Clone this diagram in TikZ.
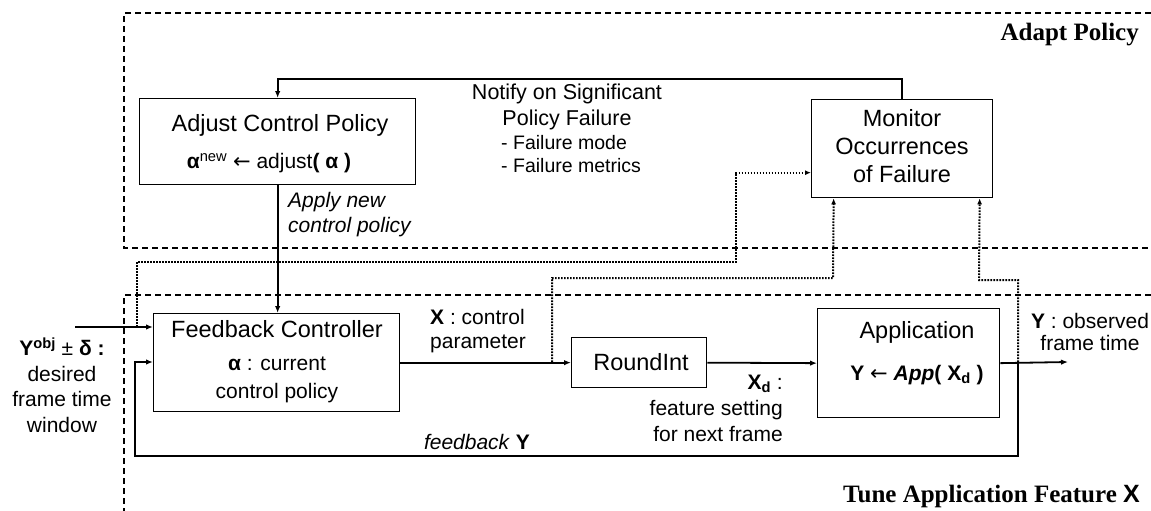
\documentclass[tikz,border=0pt]{standalone}
\usepackage{fontspec}
\setmainfont{Liberation Sans}
\newfontfamily\seriffont{Liberation Serif}
\newfontfamily\arrowfont{DejaVu Sans}
\newcommand{\larr}{{\arrowfont\mdseries ←}}
\usetikzlibrary{arrows.meta,calc}
\begin{document}
\begin{tikzpicture}[x=1pt,y=-1pt,
  box/.style={draw, line width=1.3pt, inner sep=0pt, anchor=north west},
  conn/.style={line width=1.8pt, -{Latex[length=7pt,width=5.5pt]}},
  dotc/.style={line width=2pt, dash pattern=on 1.6pt off 1.4pt, -{Latex[length=6pt,width=5pt]}},
  frame/.style={line width=1.2pt, dash pattern=on 6pt off 4pt},
  ttl/.style={font=\fontsize{23.5}{28}\selectfont, inner sep=0pt, align=center},
  lbl/.style={font=\fontsize{21}{26}\selectfont, inner sep=0pt},
  small/.style={font=\fontsize{19.5}{23}\selectfont, inner sep=0pt},
  region/.style={font=\fontsize{25}{30}\selectfont\seriffont\bfseries, inner sep=0pt}
]
\useasboundingbox (0,0) rectangle (1151,511);

% region frames
\draw[frame] (1151,13) -- (124,13) -- (124,248) -- (1151,248);
\draw[frame] (1151,295) -- (124,295) -- (124,511);
\node[region, anchor=base east] (adaptlbl) at (1139,41) {Adapt Policy};
\node[region, anchor=base east] (tunelbl) at (1140,502) {Tune Application Feature {\rmfamily X}};

% boxes
\node[box, minimum width=276pt, minimum height=86pt] (adjust) at (139,98) {};
\node[box, minimum width=181pt, minimum height=98pt] (monitor) at (811,99) {};
\node[box, minimum width=246pt, minimum height=98pt] (feedback) at (153,313) {};
\node[box, minimum width=135pt, minimum height=50pt] (roundint) at (571,337) {};
\node[box, minimum width=182pt, minimum height=109pt] (app) at (817,308) {};

% box texts
\node[ttl] (adjt1) at (280,125) {Adjust Control Policy};
\node[lbl] (adjt2) at (269,163) {\textbf{α}\textsuperscript{new} \larr\ adjust\textbf{( α )}};
\node[ttl] (mont) at (902,146) {Monitor\\Occurrences\\of Failure};
\node[ttl] (fbt1) at (277,329) {Feedback Controller};
\node[lbl, align=center, font=\fontsize{21}{28}\selectfont] (fbt2) at (277,380) {\textbf{α} : current\\control policy};
\node[ttl] (rit) at (641,362) {RoundInt};
\node[ttl] (appt1) at (917,332) {Application};
\node[lbl] (appt2) at (917,375) {\textbf{Y \larr\ \textit{App}( X\textsubscript{d} )}};

% other labels
\node[lbl, align=center, font=\fontsize{21}{25.5}\selectfont] (inlbl) at (62,385) {\textbf{Y\textsuperscript{obj}} ± \textbf{δ :}\\desired\\frame time\\window};
\node[lbl, align=left, anchor=west, font=\fontsize{21}{24}\selectfont] (xlbl) at (430,331) {\textbf{X} : control\\parameter};
\node[lbl, align=right, anchor=east] (xdlbl) at (783,408) {\textbf{X\textsubscript{d}} :\\feature setting\\for next frame};
\node[lbl] (fblbl) at (477,442) {\textit{feedback} \textbf{Y}};
\node[lbl, align=center, font=\fontsize{21}{22}\selectfont] (ylbl) at (1090,332) {\textbf{Y} : observed\\frame time};
\node[lbl, align=left, anchor=west, font=\fontsize{21}{25}\selectfont\itshape] (applbl) at (288,215) {Apply new\\control policy};
\node[font=\fontsize{21.5}{26}\selectfont, inner sep=0pt, align=center] (notify) at (567,107) {Notify on Significant\\Policy Failure};
\node[small, align=left, anchor=west] (flist) at (501,154) {- Failure mode\\- Failure metrics};

% coordinates
\coordinate (in) at (75,327);
\coordinate (yout) at (1068,362);
\coordinate (tap) at (1018,362);
\coordinate (xtap) at (552,362);
\coordinate (intap) at (137,327);

% solid connectors
\draw[conn] (monitor.north) -- ++(0,-20) -| (adjust.north);
\draw[conn] (adjust.south) -- (adjust.south |- feedback.north);
\draw[conn] (in) -- (in -| feedback.west);
\draw[conn] (feedback.east) -- (roundint.west);
\draw[conn] (roundint.east) -- (app.west);
\draw[conn] (app.east) -- (yout);
\draw[conn] (tap) -- (1018,456) -- (135,456) -- (135,362) -- (feedback.west |- 135,362);

% dotted connectors
\draw[dotc] (intap) |- (736,262) |- ([yshift=-24pt]monitor.west);
\draw[dotc] (xtap) |- (833,278) -- ([xshift=-68.5pt]monitor.south);
\draw[dotc] (tap) |- (979,280) -- ([xshift=77.5pt]monitor.south);
\end{tikzpicture}
\end{document}
